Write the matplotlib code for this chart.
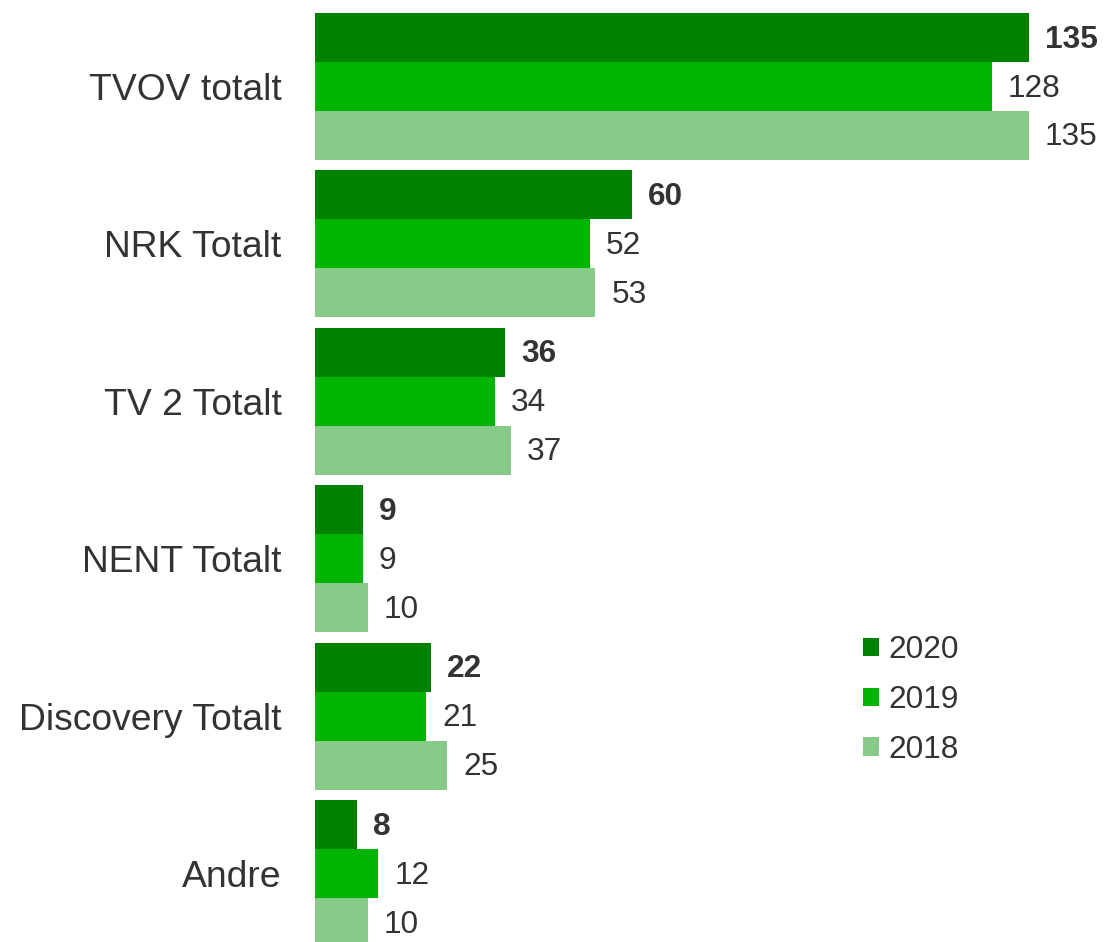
import matplotlib
matplotlib.use('agg')
import matplotlib.pyplot as plt
import numpy as np

plt.rcParams['font.family'] = ['Liberation Sans', 'DejaVu Sans']

categories = ['TVOV totalt', 'NRK Totalt', 'TV 2 Totalt', 'NENT Totalt', 'Discovery Totalt', 'Andre']
years = ['2020', '2019', '2018']
v2020 = [135, 60, 36, 9, 22, 8]
v2019 = [128, 52, 34, 9, 21, 12]
v2018 = [135, 53, 37, 10, 25, 10]
colors = ['#008200', '#00b400', '#88ca88']

fig = plt.figure(figsize=(11.04, 9.42), dpi=100)
# plot area runs slightly past the bottom edge, as in the original
ax = fig.add_axes([315/1104, 1 - 947/942, 1 - 315/1104, 934/942])

h = 0.311
y = np.arange(len(categories))
series = [v2020, v2019, v2018]
for k, (vals, col, yr) in enumerate(zip(series, colors, years)):
    pos = y + (k - 1) * h
    ax.barh(pos, vals, height=h, color=col, label=yr)
    for p, v in zip(pos, vals):
        ax.annotate(str(v), (v, p), xytext=(11.5, -1.5), textcoords='offset points',
                    va='center', ha='left', fontsize=22.8, color='#333333',
                    fontweight='bold' if k == 0 else 'normal', annotation_clip=False)

ax.set_ylim(len(categories) - 1 + 1.5 * h, -1.5 * h)
ax.set_xlim(0, (1104 - 315) / ((1029 - 315) / 135))
ax.set_yticks(y)
ax.set_yticklabels(categories, fontsize=26.8, color='#333333')
ax.tick_params(axis='y', length=0, pad=24)
ax.set_xticks([])
for s in ax.spines.values():
    s.set_visible(False)

ax.legend(loc='upper left', bbox_to_anchor=(847/1104, 1 - 619/942), bbox_transform=fig.transFigure,
          frameon=False, fontsize=22.8, handlelength=0.5, handleheight=0.5,
          handletextpad=0.3, labelspacing=0.63, borderpad=0, labelcolor='#333333')

fig.savefig('out.png', dpi=100)
